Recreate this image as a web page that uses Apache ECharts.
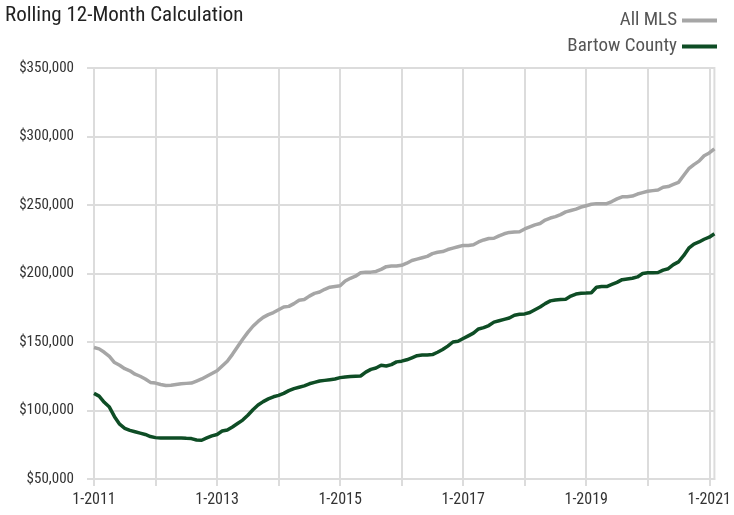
<!DOCTYPE html>
<html>
<head>
<meta charset="utf-8">
<title>Rolling 12-Month Calculation</title>
<script src="https://cdn.jsdelivr.net/npm/echarts@6/dist/echarts.min.js"></script>
<style>
  html, body { margin: 0; padding: 0; background: #fff; }
  #main { width: 734px; height: 515px; }
</style>
</head>
<body>
<div id="main"></div>
<script>
// months 1-2011 .. 2-2021
var startYear = 2011;
var monthCount = 122;

var seriesNames = ['All MLS', 'Bartow County'];

var allMls = [
  146000, 145000, 142500, 139500, 135000, 133000, 130500, 129000, 126500, 125000, 123000, 120500,
  120000, 119000, 118200, 118500, 119000, 119500, 119800, 120000, 121500, 123000, 125000, 127000,
  129000, 132500, 136000, 141000, 146500, 152000, 157000, 161500, 165000, 168000, 170000, 171500,
  173500, 175500, 176000, 178000, 180500, 181000, 183500, 185500, 186500, 188500, 190000, 190500,
  191000, 194500, 196500, 198000, 200500, 201000, 201000, 201500, 203000, 205000, 205500, 205500,
  206000, 207500, 209500, 210500, 211500, 212500, 214500, 215500, 216000, 217500, 218500, 219500,
  220500, 220500, 221000, 223000, 224500, 225500, 225700, 227500, 229000, 230000, 230300, 230500,
  232500, 234000, 235500, 236500, 239000, 240500, 241500, 243000, 245000, 246000, 247000, 248500,
  249500, 250500, 251000, 251000, 251000, 252500, 254500, 256000, 256000, 256500, 258000, 259000,
  260000, 260500, 261000, 263000, 263500, 265000, 266500, 271500, 276500, 279500, 282000, 286000,
  288000, 291000
];

var bartow = [
  112500, 110500, 106000, 102500, 95500, 90000, 87000, 85500, 84500, 83500, 82500, 81000,
  80200, 80000, 80000, 80000, 80000, 80000, 79700, 79500, 78500, 78300, 80000, 81500,
  82500, 85000, 85800, 88000, 90500, 93000, 96500, 100500, 104000, 106500, 108500, 110000,
  111000, 112500, 114500, 116000, 117000, 118000, 119500, 120500, 121500, 122000, 122500, 123000,
  124000, 124500, 124800, 125000, 125200, 128000, 130000, 131000, 133000, 132500, 133500, 135500,
  136000, 137000, 138500, 140000, 140500, 140500, 140800, 142500, 144500, 147000, 150000, 150500,
  152500, 154500, 156500, 159500, 160500, 162000, 164500, 165500, 166500, 167500, 169500, 170200,
  170500, 171500, 173500, 175500, 178000, 180000, 180700, 181000, 181200, 183500, 185000, 185600,
  185700, 186000, 190000, 190500, 190500, 192000, 193500, 195500, 196000, 196500, 197500, 200000,
  200500, 200500, 200700, 202500, 203500, 206500, 208500, 213000, 218500, 221500, 223000, 225000,
  226500, 229000
];

var yMin = 50000;
var yMax = 350000;
var yStep = 50000;

var categories = [];
for (var i = 0; i < monthCount; i++) {
  categories.push((i % 12 + 1) + '-' + (startYear + Math.floor(i / 12)));
}

var gridColor = '#dcdcdc';
var fontName = "'Liberation Sans Narrow', 'Arial Narrow', 'Roboto Condensed', sans-serif";

function money(v) {
  return '$' + String(v).replace(/\B(?=(\d{3})+(?!\d))/g, ',');
}

var chartDom = document.getElementById('main');
var myChart = echarts.init(chartDom, null, { renderer: 'canvas' });

var option = {
  animation: false,
  title: {
    text: 'Rolling 12-Month Calculation',
    left: 0,
    top: 0,
    textStyle: { fontFamily: fontName, fontSize: 21, fontWeight: 'normal', color: '#222' }
  },
  legend: {
    data: seriesNames,
    orient: 'vertical',
    right: 12,
    top: 6,
    align: 'right',
    itemWidth: 35,
    itemHeight: 4,
    itemGap: 7,
    icon: 'rect',
    textStyle: { fontFamily: fontName, fontSize: 19, color: '#555' }
  },
  grid: {
    left: 94,
    right: 17,
    top: 68,
    bottom: 36,
    show: true,
    borderColor: gridColor,
    borderWidth: 2
  },
  xAxis: {
    type: 'category',
    data: categories,
    boundaryGap: false,
    axisLine: { lineStyle: { color: gridColor, width: 2 } },
    axisTick: { show: true, interval: 11, length: 7, lineStyle: { color: gridColor, width: 2 } },
    axisLabel: { interval: 23, margin: 13, color: '#333', fontFamily: fontName, fontSize: 16 },
    splitLine: { show: true, interval: 11, lineStyle: { color: gridColor, width: 2 } }
  },
  yAxis: {
    type: 'value',
    min: yMin,
    max: yMax,
    interval: yStep,
    axisLine: { show: true, lineStyle: { color: gridColor, width: 2 } },
    axisTick: { show: true, length: 7, lineStyle: { color: gridColor, width: 2 } },
    axisLabel: { margin: 20, color: '#333', fontFamily: fontName, fontSize: 15, formatter: money },
    splitLine: { show: true, lineStyle: { color: gridColor, width: 2 } }
  },
  series: [
    {
      name: seriesNames[0],
      type: 'line',
      data: allMls,
      showSymbol: false,
      color: '#a6a6a6',
      lineStyle: { width: 3.5, color: '#a6a6a6' }
    },
    {
      name: seriesNames[1],
      type: 'line',
      data: bartow,
      showSymbol: false,
      color: '#0e4d25',
      lineStyle: { width: 3.5, color: '#0e4d25' }
    }
  ]
};

option && myChart.setOption(option);
</script>
</body>
</html>
